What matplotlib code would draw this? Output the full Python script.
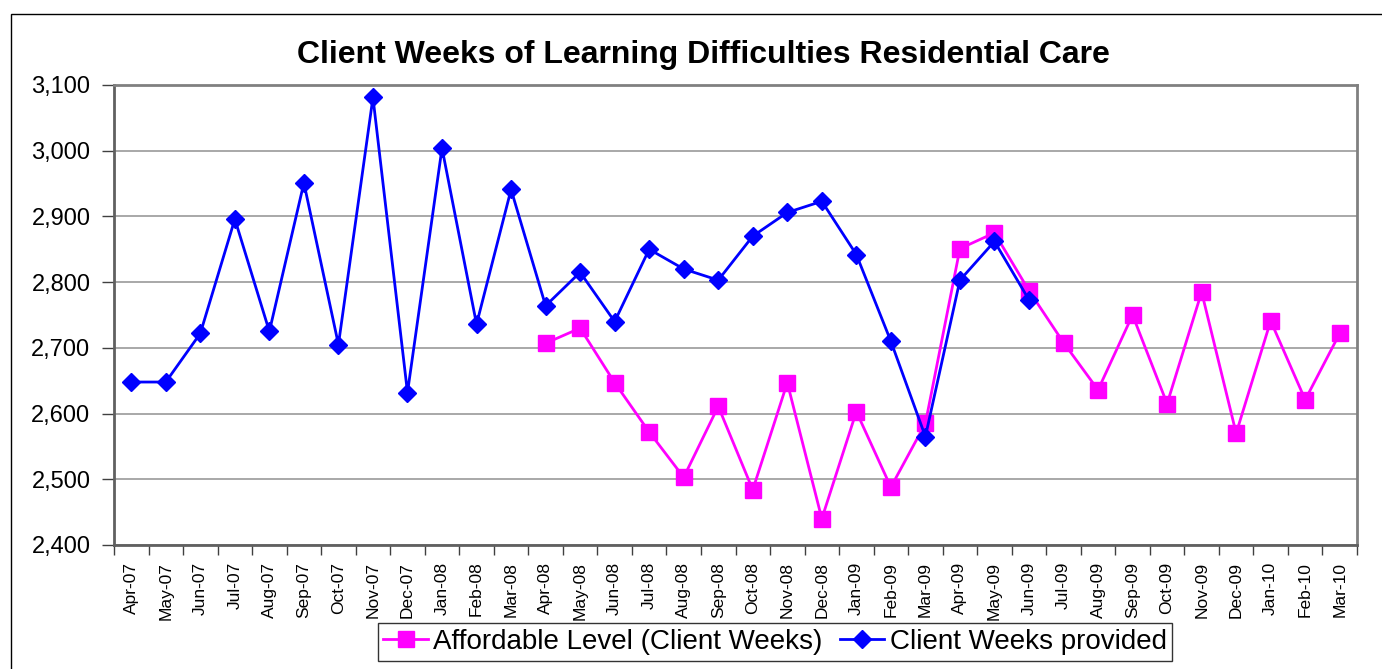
import matplotlib.pyplot as plt
from matplotlib.patches import Rectangle

plt.rcParams['font.family'] = ['Liberation Sans', 'DejaVu Sans']

months = ['Apr-07', 'May-07', 'Jun-07', 'Jul-07', 'Aug-07', 'Sep-07', 'Oct-07', 'Nov-07',
          'Dec-07', 'Jan-08', 'Feb-08', 'Mar-08', 'Apr-08', 'May-08', 'Jun-08', 'Jul-08',
          'Aug-08', 'Sep-08', 'Oct-08', 'Nov-08', 'Dec-08', 'Jan-09', 'Feb-09', 'Mar-09',
          'Apr-09', 'May-09', 'Jun-09', 'Jul-09', 'Aug-09', 'Sep-09', 'Oct-09', 'Nov-09',
          'Dec-09', 'Jan-10', 'Feb-10', 'Mar-10']

# client weeks provided, Apr-07 .. Jun-09
provided = [2648, 2648, 2722, 2896, 2725, 2951, 2705, 3081, 2632, 3004, 2736, 2941,
            2764, 2815, 2740, 2850, 2820, 2803, 2870, 2906, 2923, 2842, 2710, 2565,
            2803, 2862, 2773]

# affordable level, Apr-08 .. Mar-10
affordable = [2707, 2730, 2647, 2572, 2503, 2611, 2484, 2647, 2440, 2603, 2488, 2585,
              2851, 2875, 2787, 2708, 2636, 2750, 2615, 2785, 2570, 2741, 2621, 2722]

x_prov = list(range(len(provided)))
x_aff = list(range(12, 12 + len(affordable)))

fig = plt.figure(figsize=(13.82, 6.69), dpi=100)
ax = fig.add_axes([114 / 1382, 1 - 545 / 669, 1243 / 1382, 460 / 669])

ax.plot(x_aff, affordable, color='#FF00FF', lw=2, marker='s', ms=11,
        label='Affordable Level (Client Weeks)', zorder=3)
ax.plot(x_prov, provided, color='#0000FF', lw=2, marker='D', ms=9,
        label='Client Weeks provided', zorder=4)

ax.set_xlim(-0.5, 35.5)
ax.set_ylim(2400, 3100)
ax.set_yticks(range(2400, 3101, 100))
ax.set_yticklabels([f'{v:,}' for v in range(2400, 3101, 100)], fontsize=17)
ax.yaxis.grid(True, color='#999999', lw=1.2)
ax.set_axisbelow(True)

# category boundaries get the tick marks, labels sit in the middle
ax.set_xticks([i - 0.5 for i in range(37)])
ax.set_xticklabels([])
ax.set_xticks(range(36), minor=True)
ax.set_xticklabels(months, minor=True, rotation=90, fontsize=12.5)
ax.tick_params(axis='x', which='minor', length=0, pad=12)
ax.tick_params(axis='x', which='major', length=7, width=1, color='#404040')
ax.tick_params(axis='y', length=9, width=1, color='#404040', pad=8)

for s in ax.spines.values():
    s.set_color('#808080')
    s.set_linewidth(2)
ax.spines['left'].set_color('#606060')
ax.spines['bottom'].set_color('#606060')

fig.text(703 / 1382, 1 - 55 / 669, 'Client Weeks of Learning Difficulties Residential Care',
         ha='center', va='center', fontsize=23, fontweight='bold')

fig.legend(loc='center', bbox_to_anchor=(775 / 1382, 1 - 642 / 669), ncol=2,
           fontsize=20, frameon=True, fancybox=False, edgecolor='black',
           handlelength=1.6, handletextpad=0.2, columnspacing=0.6, borderpad=0.2,
           borderaxespad=0)

fig.patches.append(Rectangle((11 / 1382, -0.1), 1.2, 1.1 - 14 / 669,
                             transform=fig.transFigure, fill=False, edgecolor='black', lw=1))

fig.savefig('out.png', dpi=100)
